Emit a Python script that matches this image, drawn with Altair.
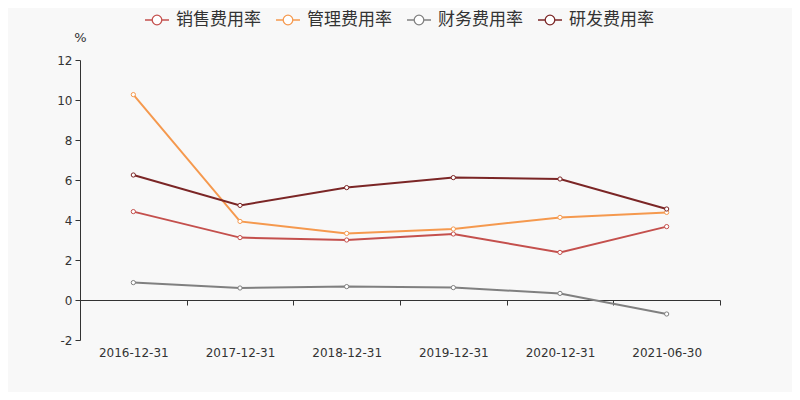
import altair as alt
import pandas as pd

dates = ["2016-12-31", "2017-12-31", "2018-12-31", "2019-12-31", "2020-12-31", "2021-06-30"]
series_names = ["销售费用率", "管理费用率", "财务费用率", "研发费用率"]
sales = [4.42, 3.12, 3.0, 3.3, 2.38, 3.67]
admin = [10.27, 3.93, 3.33, 3.55, 4.13, 4.38]
finance = [0.87, 0.6, 0.67, 0.62, 0.33, -0.7]
rnd = [6.25, 4.73, 5.62, 6.12, 6.05, 4.55]
colors = ["#c4504d", "#f5994e", "#808080", "#7b2626"]

rows = []
for name, vals in zip(series_names, [sales, admin, finance, rnd]):
    for d, v in zip(dates, vals):
        rows.append({"date": d, "series": name, "value": v})
df = pd.DataFrame(rows)

color = alt.Color(
    "series:N",
    scale=alt.Scale(domain=series_names, range=colors),
    legend=alt.Legend(
        orient="none", legendX=64, legendY=-53, direction="horizontal",
        title=None,
        symbolType="M-1,0L-0.4,0M0.4,0L1,0M-0.4,0A0.4,0.4 0 1,1 0.4,0A0.4,0.4 0 1,1 -0.4,0",
        symbolSize=576, symbolStrokeWidth=1.3, symbolFillColor="#ffffff",
        labelFont="Noto Sans CJK SC", labelFontSize=17, labelColor="#333333",
        columnPadding=12, labelOffset=6, padding=0,
    ),
)

x = alt.X(
    "date:N", sort=dates, title=None,
    scale=alt.Scale(paddingInner=0, paddingOuter=0),
    axis=alt.Axis(
        labelAngle=0, offset=-40, tickBand="extent", tickSize=5,
        domainColor="#333333", tickColor="#333333", labelColor="#333333",
        labelFont="DejaVu Sans", labelFontSize=12, labelPadding=42,
        grid=False,
    ),
)
y = alt.Y(
    "value:Q", title="%",
    scale=alt.Scale(domain=[-2, 12], nice=False),
    axis=alt.Axis(
        values=[-2, 0, 2, 4, 6, 8, 10, 12], grid=False, tickSize=5,
        labelExpr="toString(datum.value)",
        domainColor="#333333", tickColor="#333333", labelColor="#333333",
        labelFont="DejaVu Sans", labelFontSize=12, labelPadding=3,
        titleAngle=0, titleX=0, titleY=-16, titleAlign="center",
        titleFont="DejaVu Sans", titleFontSize=13, titleFontWeight="normal",
        titleColor="#333333",
    ),
)

base = alt.Chart(df)
lines = base.mark_line(strokeWidth=2).encode(x=x, y=y, color=color)
points = base.mark_point(filled=True, size=18, fill="#ffffff", strokeWidth=1, opacity=1).encode(
    x=x, y=y, stroke=alt.Stroke("series:N", scale=alt.Scale(domain=series_names, range=colors), legend=None)
)

chart = (
    alt.layer(lines, points)
    .properties(
        width=640, height=280,
        autosize=alt.AutoSizeParams(type="none"),
        padding={"left": 72, "top": 52, "right": 72, "bottom": 52},
        background="#f8f8f8",
    )
    .configure_view(stroke=None)
)

chart.save("out.html", embed_options={"renderer": "svg", "actions": False})
